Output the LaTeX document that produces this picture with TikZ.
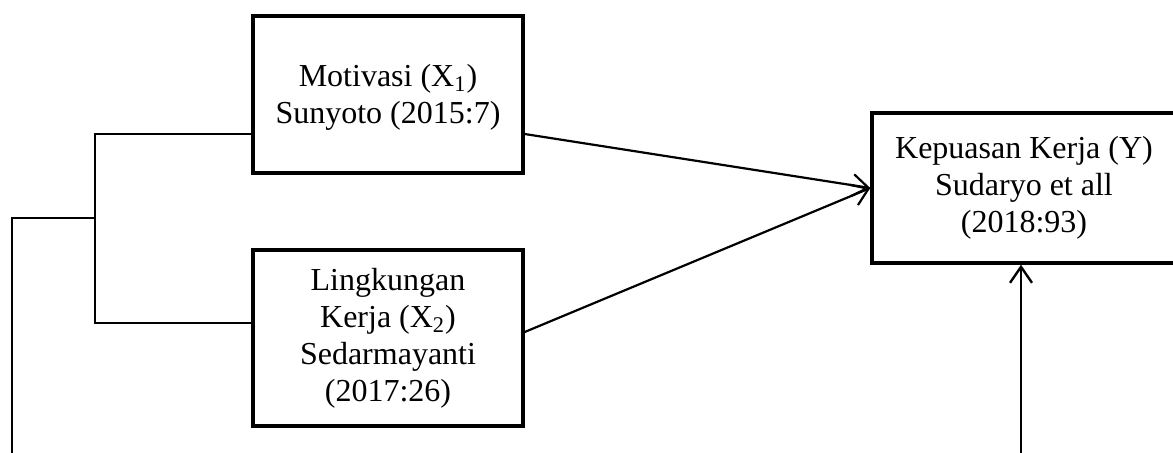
\documentclass[tikz,border=0pt]{standalone}
\usepackage{fontspec}
\setmainfont{Liberation Serif}
\usetikzlibrary{arrows.meta}
\begin{document}
\begin{tikzpicture}[x=0.5pt,y=-0.5pt,
  box/.style={draw, line width=1.7pt, align=center, inner sep=0pt, font=\fontsize{16}{18.5}\selectfont},
  conn/.style={line width=0.7pt},
  connb/.style={line width=1pt},
  arr/.style={line width=1.1pt, -{Straight Barb[length=8pt,width=11pt]}}]
\useasboundingbox (0,0) rectangle (1173,452);
\clip (0,0) rectangle (1173,452);
\node[box, minimum width=135pt, minimum height=78.5pt] (b1) at (388,94.5) {};
\node[font=\fontsize{16}{18.5}\selectfont, align=center, inner sep=0pt] (t1txt) at (b1.center) [yshift=-1.5pt] {Motivasi (X\textsubscript{1})\\Sunyoto (2015:7)};
\node[box, minimum width=135pt, minimum height=88pt] (b2) at (388,338) {Lingkungan\\Kerja (X\textsubscript{2})\\Sedarmayanti\\(2017:26)};
\node[box, minimum width=152pt, minimum height=75pt] (y) at (1024,188) {Kepuasan Kerja (Y)\\Sudaryo et all\\(2018:93)};
\coordinate (t1) at (95,134);
\coordinate (t2) at (95,323);
\coordinate (m) at (95,218);
\coordinate (l) at (12,218);
\coordinate (lb) at (12,460);
\coordinate (r1) at (523,134);
\coordinate (r2) at (523,332);
\coordinate (yb) at (1021,460);
\draw[conn] (b1.west |- t1) -- (t1) -- (t2) -- (b2.west |- t2);
\draw[connb] (m) -- (l) -- (lb);
\draw[arr] (b1.east |- r1) -- (y.west);
\draw[arr] (b2.east |- r2) -- (y.west);
\draw[arr, line width=1.2pt] (yb) -- (yb |- y.south);
\end{tikzpicture}
\end{document}
